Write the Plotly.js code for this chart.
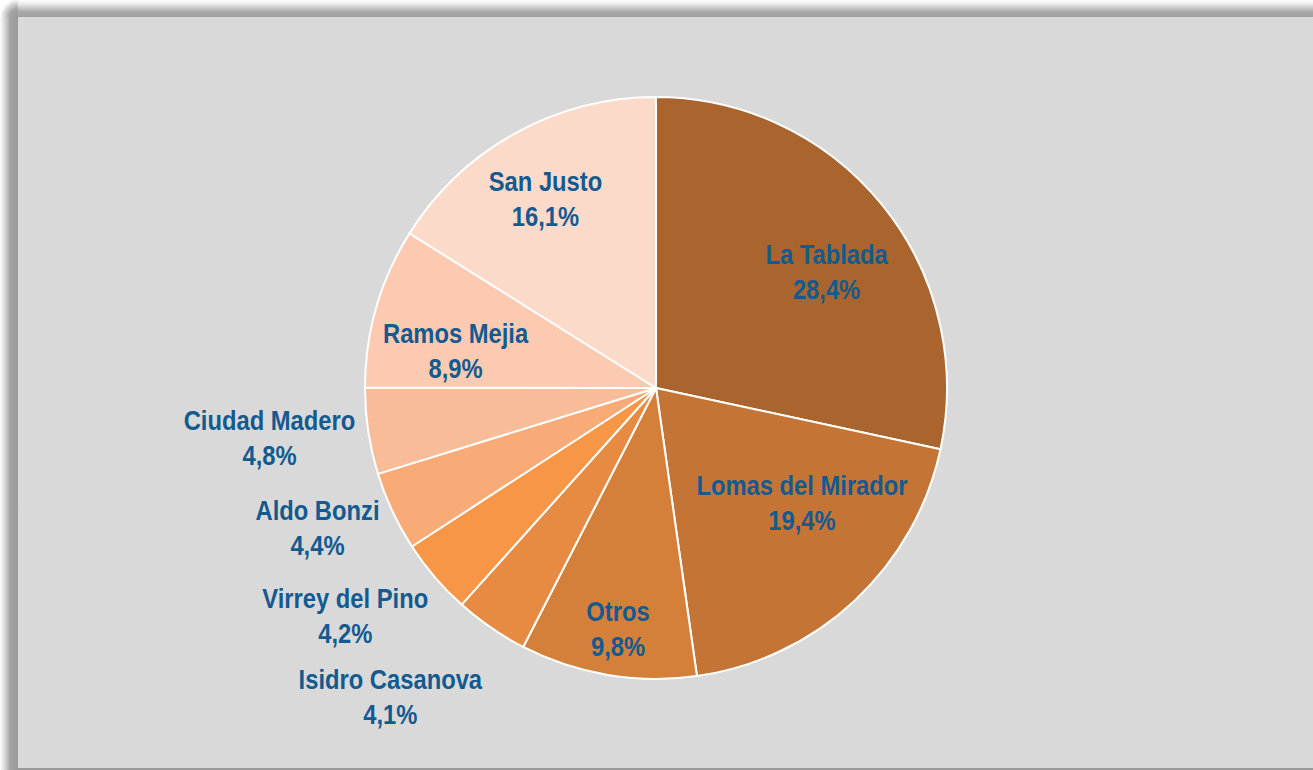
<!DOCTYPE html>
<html>
<head>
<meta charset="utf-8">
<script src="https://cdn.plot.ly/plotly-3.0.1.min.js"></script>
<style>
  html, body { margin: 0; padding: 0; background: #ffffff; }
  #wrap { position: relative; width: 1313px; height: 770px; overflow: hidden; background: #ffffff; }
  #shadowLeft { position: absolute; left: 0; top: 8px; width: 18px; height: 762px;
    background: linear-gradient(to right, #ffffff 0px, #e6e6e6 3px, #c4c4c4 7px, #a3a3a3 10px, #999999 18px); }
  #shadowTop { position: absolute; left: 8px; top: 0; width: 1305px; height: 17px;
    background: linear-gradient(to bottom, #ffffff 0px, #ebebeb 4px, #c8c8c8 8px, #a8a8a8 12px, #a0a0a0 17px); }
  #shadowCorner { position: absolute; left: 0; top: 0; width: 18px; height: 17px;
    background: radial-gradient(circle at 100% 100%, #999999 0px, #a3a3a3 8px, #d0d0d0 13px, #ffffff 18px); }
  #box { position: absolute; left: 18px; top: 17px; width: 1295px; height: 751px; background: #d9d9d9;
    border-bottom: 2px solid #9a9a9a; }
  #chart { position: absolute; left: 0; top: 0; width: 1313px; height: 770px; }
  #chart text.annotation-text { transform-box: fill-box; transform-origin: center; transform: scaleX(0.88); }
</style>
</head>
<body>
<div id="wrap">
  <div id="shadowLeft"></div>
  <div id="shadowTop"></div>
  <div id="shadowCorner"></div>
  <div id="box"></div>
  <div id="chart"></div>
</div>
<script>
// ---- data ----
const labels = ["La Tablada", "Lomas del Mirador", "Otros", "Isidro Casanova", "Virrey del Pino",
                "Aldo Bonzi", "Ciudad Madero", "Ramos Mejia", "San Justo"];
const values = [28.4, 19.4, 9.8, 4.1, 4.2, 4.4, 4.8, 8.9, 16.1];
const colors = ["#a9652d", "#c47535", "#d5803a", "#e68b41", "#f79646",
                "#f8aa77", "#f9bc98", "#fbcab1", "#fcdac9"];

// ---- layout / styling ----
const W = 1313, H = 770;
const cx = 656, cy = 388, R = 291;
// label block centers (pixels)
const labelAt = [[827, 272], [802, 503], [618, 629], [391, 697], [345, 616],
                 [317, 528], [269, 438], [456, 351], [545, 200]];
const textColor = "#135a90";
const fontFam = "'Liberation Sans', Arial, sans-serif";

const fmt = v => v.toFixed(1).replace('.', ',') + '%';

const trace = {
  type: 'pie',
  labels: labels,
  values: values,
  sort: false,
  direction: 'clockwise',
  rotation: 0,
  textinfo: 'none',
  hoverinfo: 'label+percent',
  marker: { colors: colors, line: { color: '#ffffff', width: 2 } },
  domain: { x: [(cx - R) / W, (cx + R) / W], y: [(H - cy - R) / H, (H - cy + R) / H] },
  showlegend: false
};

const annotations = labels.map((lab, i) => ({
  xref: 'paper', yref: 'paper',
  x: labelAt[i][0] / W, y: 1 - labelAt[i][1] / H,
  xanchor: 'center', yanchor: 'middle',
  text: '<b>' + lab + '<br>' + fmt(values[i]) + '</b>',
  showarrow: false,
  align: 'center',
  font: { family: fontFam, size: 27, color: textColor }
}));

const layout = {
  width: W, height: H,
  margin: { l: 0, r: 0, t: 0, b: 0 },
  paper_bgcolor: 'rgba(0,0,0,0)',
  plot_bgcolor: 'rgba(0,0,0,0)',
  annotations: annotations
};

Plotly.newPlot('chart', [trace], layout, { displayModeBar: false, staticPlot: true });
</script>
</body>
</html>
